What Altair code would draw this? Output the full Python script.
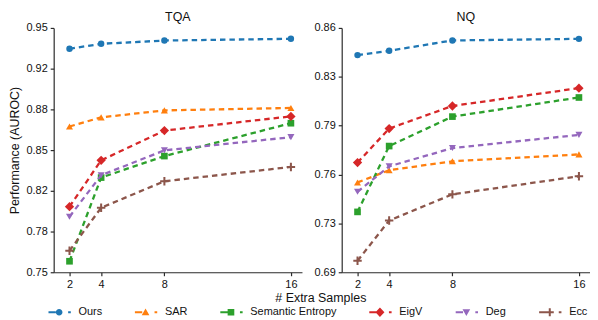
import altair as alt
import pandas as pd

methods = ["Ours", "SAR", "Semantic Entropy", "EigV", "Deg", "Ecc"]
colors = ["#1f77b4", "#ff7f0e", "#2ca02c", "#d62728", "#9467bd", "#8c564b"]
samples = [2, 4, 8, 16]

# TQA panel
tqa_ours = [0.9329, 0.9370, 0.9397, 0.9411]
tqa_sar = [0.8693, 0.8768, 0.8825, 0.8845]
tqa_se = [0.7590, 0.8275, 0.8451, 0.8720]
tqa_eigv = [0.8037, 0.8416, 0.8660, 0.8776]
tqa_deg = [0.7955, 0.8294, 0.8498, 0.8606]
tqa_ecc = [0.7676, 0.8028, 0.8245, 0.8362]

# NQ panel
nq_ours = [0.8436, 0.8466, 0.8538, 0.8549]
nq_sar = [0.7550, 0.7635, 0.7697, 0.7745]
nq_se = [0.7345, 0.7803, 0.8008, 0.8141]
nq_eigv = [0.7688, 0.7925, 0.8082, 0.8206]
nq_deg = [0.7485, 0.7662, 0.7789, 0.7881]
nq_ecc = [0.7005, 0.7285, 0.7467, 0.7593]

tqa_ticks = [0.75, 0.783333, 0.816667, 0.85, 0.883333, 0.916667, 0.95]
nq_ticks = [0.6925, 0.7265, 0.7605, 0.7945, 0.8285, 0.8625]

PLUS = "M-1,-0.24H-0.24V-1H0.24V-0.24H1V0.24H0.24V1H-0.24V0.24H-1Z"
marker_shapes = ["circle", "triangle-up", "square", "diamond", "triangle-down", PLUS]
marker_sizes = [42, 50, 45, 88, 50, 72]

DASH_L = "M-3.2,-0.3H-1.0V0.3H-3.2Z"
DASH_R = "M2.7,-0.3H3.5V0.3H2.7Z"
legend_marks = [
    "M-1,0A1,1,0,1,0,1,0A1,1,0,1,0,-1,0Z",
    "M0,-1.1L1.15,0.9H-1.15Z",
    "M-1,-1H1V1H-1Z",
    "M0,-1.4L1.35,0L0,1.4L-1.35,0Z",
    "M0,1.1L1.15,-0.9H-1.15Z",
    "M-1.2,-0.3H-0.3V-1.2H0.3V-0.3H1.2V0.3H0.3V1.2H-0.3V0.3H-1.2Z",
]
legend_paths = [DASH_L + m + DASH_R for m in legend_marks]


def make_df(series):
    rows = []
    for m, vals in zip(methods, series):
        for s, v in zip(samples, vals):
            rows.append({"method": m, "samples": s, "value": v})
    return pd.DataFrame(rows)


def panel(title, series, domain, ticks, show_ytitle, with_legend):
    df = make_df(series)
    base = alt.Chart(df)
    x = alt.X("samples:Q",
              scale=alt.Scale(domain=[1, 16.7], nice=False, zero=False),
              axis=alt.Axis(values=samples, format="d", title=None))
    y = alt.Y("value:Q",
              scale=alt.Scale(domain=domain, nice=False, zero=False),
              axis=alt.Axis(values=ticks, format=".2f",
                            title="Performance (AUROC)" if show_ytitle else None))
    layers = []
    for i, m in enumerate(methods):
        sub = base.transform_filter(alt.datum.method == m)
        layers.append(sub.mark_line(color=colors[i], strokeWidth=2.3,
                                    strokeDash=[5.5, 4]).encode(x=x, y=y))
        layers.append(sub.mark_point(filled=True, opacity=1, shape=marker_shapes[i],
                                     size=marker_sizes[i], color=colors[i]).encode(x=x, y=y))
    if with_legend:
        leg = alt.Legend(title="# Extra Samples", orient="bottom", direction="horizontal",
                         titleAnchor="middle", titleOrient="top", titleFontSize=12.5,
                         titleFontWeight="normal", titleColor="#111111", titlePadding=2,
                         labelFontSize=11, labelColor="#111111", symbolSize=45,
                         labelOffset=14, columnPadding=32, offset=2, padding=0,
                         symbolStrokeWidth=0, columns=6)
        layers.append(
            base.transform_filter("false").mark_point(filled=True, opacity=1).encode(
                color=alt.Color("method:N", scale=alt.Scale(domain=methods, range=colors), legend=leg),
                shape=alt.Shape("method:N", scale=alt.Scale(domain=methods, range=legend_paths), legend=leg),
            )
        )
    return alt.layer(*layers).properties(width=250, height=246, title=title)


left = panel("TQA", [tqa_ours, tqa_sar, tqa_se, tqa_eigv, tqa_deg, tqa_ecc],
             [0.75, 0.95], tqa_ticks, True, True)
right = panel("NQ", [nq_ours, nq_sar, nq_se, nq_eigv, nq_deg, nq_ecc],
              [0.6925, 0.8625], nq_ticks, False, False)

chart = alt.hconcat(left, right, spacing=12).properties(
    padding={"left": 0, "top": 2, "right": 0, "bottom": 0}
).configure(font="Liberation Sans").configure_view(stroke=None).configure_axis(
    grid=False, domainColor="#2b2b2b", domainWidth=1.2, tickColor="#2b2b2b", tickWidth=1.2,
    tickSize=3.5, labelFontSize=11, labelColor="#111111", labelPadding=3,
    titleFontSize=12.5, titleFontWeight="normal", titleColor="#111111", titlePadding=5,
).configure_title(fontSize=12.5, fontWeight="normal", color="#111111", offset=-2)

chart.save("out.html", embed_options={"renderer": "svg", "actions": False})
